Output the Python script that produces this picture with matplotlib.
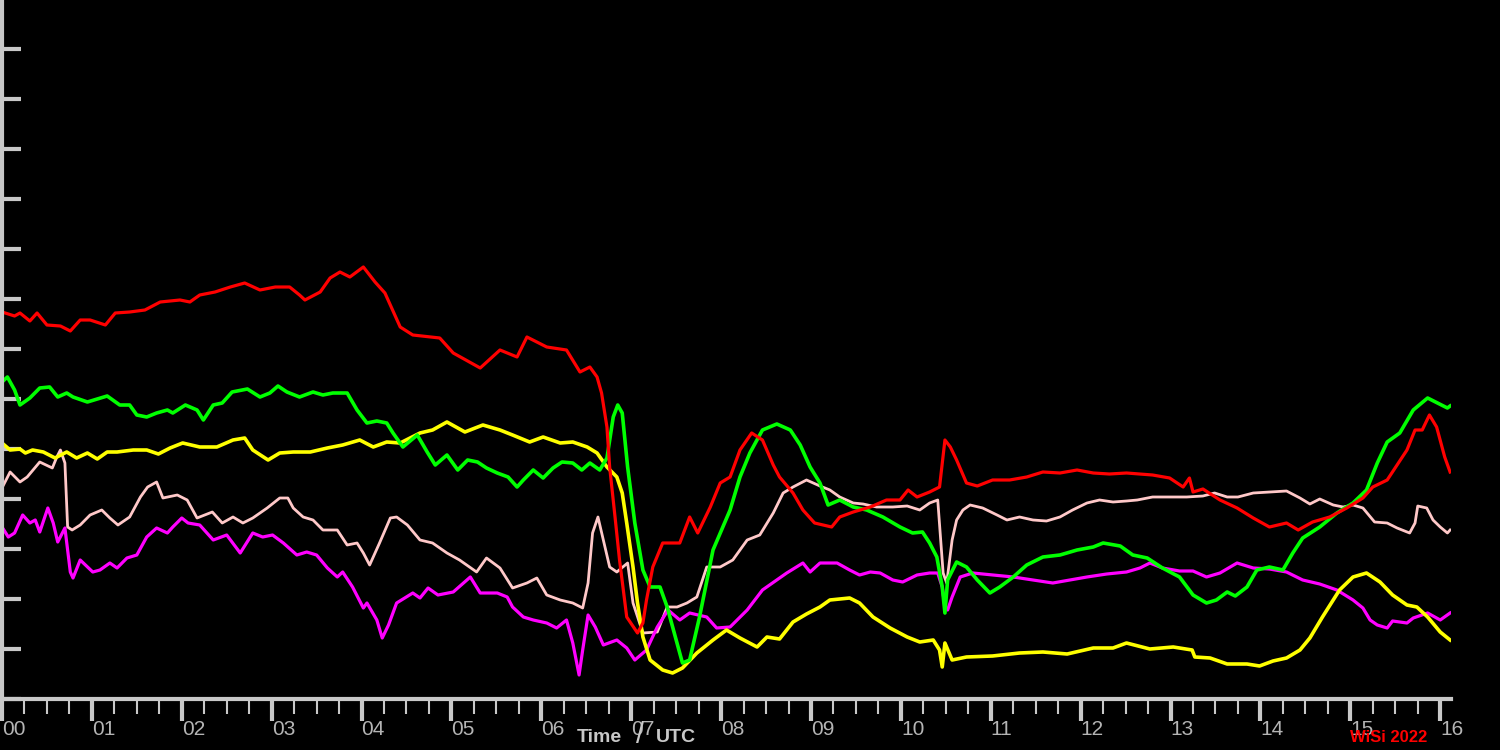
import matplotlib.pyplot as plt
from matplotlib.ticker import MultipleLocator

# times in hours UTC, values in axis units (one tick = 1)
red_t = [0.00, 0.14, 0.20, 0.31, 0.39, 0.50, 0.65, 0.76, 0.87, 0.98, 1.15, 1.26, 1.42, 1.59, 1.76, 1.98,
         2.09, 2.20, 2.37, 2.54, 2.70, 2.87, 3.04, 3.20, 3.31, 3.37, 3.54, 3.65, 3.76, 3.87, 4.02, 4.15,
         4.26, 4.37, 4.43, 4.57, 4.87, 5.02, 5.32, 5.54, 5.73, 5.84, 6.06, 6.28, 6.43, 6.54, 6.62, 6.67,
         6.73, 6.76, 6.82, 6.87, 6.95, 7.07, 7.13, 7.17, 7.24, 7.35, 7.54, 7.65, 7.74, 7.88, 7.99, 8.10,
         8.21, 8.34, 8.46, 8.58, 8.65, 8.80, 8.91, 9.04, 9.23, 9.32, 9.47, 9.66, 9.84, 9.99, 10.08, 10.18,
         10.32, 10.43, 10.49, 10.55, 10.62, 10.73, 10.85, 11.02, 11.21, 11.40, 11.58, 11.77, 11.96, 12.14,
         12.32, 12.51, 12.80, 12.99, 13.14, 13.21, 13.25, 13.36, 13.55, 13.74, 13.92, 14.10, 14.29, 14.42,
         14.58, 14.77, 14.96, 15.14, 15.25, 15.41, 15.52, 15.63, 15.72, 15.80, 15.88, 15.96, 16.05, 16.11]
red_v = [7.74, 7.66, 7.72, 7.56, 7.72, 7.48, 7.46, 7.36, 7.58, 7.58, 7.48, 7.72, 7.74, 7.78, 7.94, 7.98,
         7.94, 8.08, 8.14, 8.24, 8.32, 8.18, 8.24, 8.24, 8.08, 7.98, 8.14, 8.42, 8.54, 8.44, 8.64, 8.34,
         8.12, 7.68, 7.44, 7.28, 7.22, 6.92, 6.62, 6.98, 6.84, 7.24, 7.04, 6.98, 6.54, 6.64, 6.44, 6.12,
         5.44, 4.64, 3.64, 2.78, 1.64, 1.32, 1.52, 1.98, 2.64, 3.12, 3.12, 3.64, 3.32, 3.84, 4.32, 4.44,
         4.98, 5.32, 5.18, 4.68, 4.44, 4.12, 3.78, 3.52, 3.44, 3.64, 3.74, 3.84, 3.98, 3.98, 4.18, 4.04,
         4.14, 4.24, 5.18, 5.04, 4.78, 4.32, 4.26, 4.38, 4.38, 4.44, 4.54, 4.52, 4.58, 4.52,
         4.50, 4.52, 4.48, 4.42, 4.24, 4.42, 4.14, 4.20, 3.98, 3.82, 3.62, 3.44, 3.52, 3.38,
         3.54, 3.64, 3.82, 4.02, 4.24, 4.38, 4.68, 4.98, 5.38, 5.38, 5.68, 5.44, 4.84, 4.54]

green_t = [0.00, 0.06, 0.14, 0.20, 0.31, 0.42, 0.53, 0.62, 0.72, 0.79, 0.95, 1.06, 1.17, 1.31, 1.42, 1.50,
           1.61, 1.72, 1.84, 1.90, 2.04, 2.17, 2.24, 2.35, 2.45, 2.56, 2.73, 2.87, 2.98, 3.07, 3.17, 3.31,
           3.46, 3.57, 3.68, 3.84, 3.95, 4.06, 4.17, 4.28, 4.35, 4.46, 4.62, 4.73, 4.82, 4.95, 5.07, 5.18,
           5.29, 5.39, 5.51, 5.63, 5.73, 5.80, 5.91, 6.02, 6.13, 6.23, 6.35, 6.45, 6.54, 6.65, 6.73, 6.80,
           6.85, 6.90, 6.96, 7.04, 7.13, 7.21, 7.32, 7.40, 7.51, 7.57, 7.65, 7.76, 7.91, 8.10, 8.21, 8.32,
           8.46, 8.62, 8.77, 8.88, 8.99, 9.10, 9.19, 9.32, 9.47, 9.62, 9.80, 9.99, 10.13, 10.24, 10.32,
           10.40, 10.46, 10.49, 10.52, 10.62, 10.73, 10.85, 10.99, 11.10, 11.25, 11.40, 11.58, 11.77,
           11.96, 12.14, 12.25, 12.44, 12.58, 12.74, 12.91, 13.10, 13.25, 13.40, 13.51, 13.63, 13.72,
           13.85, 13.96, 14.10, 14.25, 14.36, 14.47, 14.66, 14.85, 15.03, 15.18, 15.30, 15.41, 15.55,
           15.70, 15.86, 15.97, 16.08, 16.11]
green_v = [6.34, 6.44, 6.18, 5.88, 6.02, 6.22, 6.24, 6.04, 6.12, 6.04, 5.94, 6.00, 6.06, 5.88, 5.88, 5.68,
           5.64, 5.72, 5.78, 5.72, 5.88, 5.78, 5.58, 5.88, 5.92, 6.14, 6.20, 6.04, 6.12, 6.26, 6.14, 6.04,
           6.14, 6.08, 6.12, 6.12, 5.78, 5.52, 5.56, 5.52, 5.32, 5.04, 5.28, 4.94, 4.68, 4.88, 4.58, 4.78,
           4.74, 4.62, 4.52, 4.44, 4.24, 4.38, 4.58, 4.42, 4.62, 4.74, 4.72, 4.58, 4.72, 4.58, 4.82, 5.64,
           5.88, 5.72, 4.64, 3.52, 2.58, 2.24, 2.24, 1.84, 1.12, 0.72, 0.78, 1.64, 2.98, 3.78, 4.44, 4.92,
           5.38, 5.50, 5.38, 5.08, 4.64, 4.32, 3.88, 3.98, 3.84, 3.78, 3.64, 3.44, 3.32, 3.34, 3.12,
           2.84, 2.24, 1.72, 2.38, 2.74, 2.64, 2.38, 2.12, 2.24, 2.44, 2.68, 2.84, 2.88,
           2.98, 3.04, 3.12, 3.06, 2.88, 2.82, 2.62, 2.44, 2.08, 1.92, 1.98, 2.14, 2.06,
           2.24, 2.58, 2.64, 2.58, 2.92, 3.22, 3.44, 3.72, 3.92, 4.18, 4.72, 5.14, 5.32,
           5.78, 6.02, 5.92, 5.82, 5.86]

yellow_t = [0.00, 0.09, 0.20, 0.26, 0.34, 0.46, 0.59, 0.72, 0.83, 0.95, 1.06, 1.17, 1.28, 1.46, 1.61, 1.74,
            1.87, 2.01, 2.20, 2.39, 2.57, 2.70, 2.79, 2.96, 3.09, 3.24, 3.43, 3.62, 3.79, 3.98, 4.13, 4.28,
            4.43, 4.65, 4.79, 4.95, 5.15, 5.35, 5.54, 5.68, 5.87, 6.02, 6.21, 6.35, 6.51, 6.62, 6.73, 6.84,
            6.90, 6.95, 7.02, 7.07, 7.13, 7.21, 7.35, 7.46, 7.57, 7.73, 7.91, 8.06, 8.21, 8.40, 8.51, 8.65,
            8.80, 8.95, 9.10, 9.21, 9.43, 9.54, 9.69, 9.88, 10.07, 10.21, 10.36, 10.43, 10.46, 10.49, 10.57,
            10.73, 11.02, 11.32, 11.58, 11.85, 12.14, 12.36, 12.51, 12.77, 13.03, 13.24, 13.27, 13.44, 13.63,
            13.85, 13.99, 14.14, 14.29, 14.44, 14.55, 14.69, 14.88, 15.03, 15.18, 15.33, 15.47, 15.63, 15.74,
            15.86, 16.00, 16.11]
yellow_v = [5.12, 4.98, 5.00, 4.92, 4.98, 4.94, 4.82, 4.94, 4.82, 4.92, 4.80, 4.94, 4.94, 4.98, 4.98, 4.90,
            5.02, 5.12, 5.04, 5.04, 5.18, 5.22, 4.98, 4.78, 4.92, 4.94, 4.94, 5.02, 5.08, 5.18, 5.04, 5.14,
            5.12, 5.32, 5.38, 5.54, 5.34, 5.48, 5.38, 5.28, 5.14, 5.24, 5.12, 5.14, 5.04, 4.92, 4.64, 4.44,
            4.12, 3.52, 2.64, 1.92, 1.24, 0.78, 0.58, 0.52, 0.62, 0.92, 1.18, 1.38, 1.22, 1.04, 1.24, 1.20,
            1.54, 1.70, 1.84, 1.98, 2.02, 1.92, 1.64, 1.42, 1.24, 1.14, 1.18, 0.98, 0.64, 1.12, 0.78,
            0.84, 0.86, 0.92, 0.94, 0.90, 1.02, 1.02, 1.12, 1.00, 1.04, 0.98, 0.84, 0.82, 0.70,
            0.70, 0.66, 0.76, 0.82, 0.98, 1.22, 1.64, 2.18, 2.44, 2.52, 2.34, 2.08, 1.88, 1.84,
            1.64, 1.34, 1.18]

pink_t = [0.00, 0.09, 0.20, 0.28, 0.42, 0.56, 0.61, 0.65, 0.70, 0.73, 0.78, 0.87, 0.98, 1.11, 1.20, 1.29,
          1.42, 1.54, 1.62, 1.72, 1.79, 1.95, 2.06, 2.17, 2.34, 2.45, 2.57, 2.68, 2.79, 2.95, 3.09, 3.18,
          3.24, 3.35, 3.46, 3.57, 3.73, 3.84, 3.95, 4.02, 4.09, 4.20, 4.32, 4.39, 4.51, 4.65, 4.79, 4.95,
          5.09, 5.28, 5.39, 5.54, 5.68, 5.84, 5.95, 6.06, 6.21, 6.35, 6.46, 6.52, 6.57, 6.63, 6.69, 6.76,
          6.84, 6.96, 7.02, 7.13, 7.29, 7.40, 7.51, 7.62, 7.73, 7.84, 7.99, 8.13, 8.29, 8.43, 8.58, 8.69,
          8.80, 8.95, 9.10, 9.21, 9.32, 9.47, 9.58, 9.73, 9.91, 10.07, 10.21, 10.32, 10.41, 10.47, 10.51,
          10.57, 10.62, 10.69, 10.77, 10.91, 11.07, 11.18, 11.32, 11.47, 11.62, 11.77, 11.91, 12.07, 12.21,
          12.36, 12.51, 12.63, 12.80, 12.99, 13.18, 13.36, 13.49, 13.63, 13.75, 13.92, 14.10, 14.29, 14.44,
          14.55, 14.66, 14.81, 14.92, 15.03, 15.14, 15.27, 15.41, 15.52, 15.66, 15.72, 15.75, 15.85, 15.92,
          16.00, 16.08, 16.11]
pink_v = [4.22, 4.54, 4.34, 4.44, 4.74, 4.62, 4.84, 4.98, 4.72, 3.44, 3.38, 3.48, 3.68, 3.78, 3.62, 3.48,
          3.64, 4.04, 4.24, 4.34, 4.02, 4.08, 3.98, 3.62, 3.74, 3.52, 3.64, 3.52, 3.62, 3.82, 4.02, 4.02,
          3.82, 3.64, 3.58, 3.38, 3.38, 3.08, 3.12, 2.92, 2.68, 3.12, 3.62, 3.64, 3.48, 3.18, 3.12, 2.92,
          2.78, 2.54, 2.82, 2.62, 2.22, 2.32, 2.42, 2.08, 1.98, 1.92, 1.82, 2.32, 3.32, 3.64, 3.18, 2.64,
          2.54, 2.72, 1.92, 1.32, 1.34, 1.84, 1.84, 1.92, 2.04, 2.64, 2.64, 2.78, 3.18, 3.28, 3.72, 4.12,
          4.24, 4.38, 4.26, 4.18, 4.04, 3.92, 3.90, 3.84, 3.84, 3.86, 3.78, 3.92, 3.98, 2.52, 2.32,
          3.18, 3.58, 3.78, 3.88, 3.82, 3.68, 3.58, 3.64, 3.58, 3.56, 3.64, 3.78, 3.92, 3.98,
          3.94, 3.96, 3.98, 4.04, 4.04, 4.04, 4.06, 4.12, 4.04, 4.04, 4.12, 4.14, 4.16, 4.02,
          3.90, 4.00, 3.88, 3.84, 3.88, 3.82, 3.54, 3.52, 3.42, 3.32, 3.52, 3.86, 3.82, 3.58,
          3.44, 3.32, 3.38]

magenta_t = [0.00, 0.07, 0.14, 0.23, 0.31, 0.37, 0.42, 0.51, 0.57, 0.62, 0.70, 0.76, 0.79, 0.87, 1.01, 1.09,
             1.20, 1.28, 1.39, 1.50, 1.61, 1.72, 1.84, 1.90, 2.00, 2.07, 2.20, 2.35, 2.50, 2.65, 2.79, 2.90,
             3.01, 3.13, 3.28, 3.39, 3.50, 3.62, 3.73, 3.79, 3.90, 4.02, 4.06, 4.17, 4.23, 4.30, 4.39, 4.57,
             4.65, 4.74, 4.85, 5.02, 5.21, 5.32, 5.51, 5.62, 5.68, 5.80, 5.91, 6.06, 6.17, 6.28, 6.35, 6.42,
             6.46, 6.52, 6.60, 6.69, 6.84, 6.95, 7.04, 7.17, 7.29, 7.41, 7.54, 7.65, 7.84, 7.95, 8.10, 8.29,
             8.46, 8.65, 8.73, 8.91, 8.99, 9.10, 9.29, 9.43, 9.54, 9.66, 9.77, 9.91, 10.02, 10.18, 10.32,
             10.41, 10.46, 10.49, 10.52, 10.57, 10.66, 10.80, 11.02, 11.25, 11.47, 11.69, 11.88, 12.07, 12.29,
             12.51, 12.66, 12.77, 12.91, 13.10, 13.25, 13.40, 13.55, 13.74, 13.92, 14.10, 14.29, 14.47, 14.66,
             14.85, 15.03, 15.14, 15.22, 15.30, 15.41, 15.47, 15.63, 15.70, 15.86, 16.00, 16.11]
magenta_v = [3.44, 3.24, 3.32, 3.68, 3.52, 3.58, 3.34, 3.82, 3.52, 3.14, 3.42, 2.54, 2.42, 2.78, 2.54, 2.58,
             2.72, 2.62, 2.82, 2.88, 3.24, 3.42, 3.32, 3.44, 3.62, 3.52, 3.48, 3.18, 3.28, 2.92, 3.32, 3.24,
             3.28, 3.12, 2.88, 2.94, 2.88, 2.62, 2.44, 2.54, 2.24, 1.82, 1.92, 1.58, 1.22, 1.48, 1.92, 2.12,
             2.02, 2.22, 2.08, 2.14, 2.44, 2.12, 2.12, 2.04, 1.84, 1.64, 1.58, 1.52, 1.42, 1.58, 1.12, 0.48,
             0.98, 1.68, 1.44, 1.08, 1.18, 1.02, 0.78, 0.98, 1.44, 1.78, 1.58, 1.72, 1.64, 1.42, 1.44, 1.78,
             2.18, 2.42, 2.52, 2.72, 2.54, 2.72, 2.72, 2.58, 2.48, 2.54, 2.52, 2.38, 2.34, 2.48, 2.52,
             2.52, 2.24, 1.84, 1.78, 2.04, 2.44, 2.52, 2.48, 2.44, 2.38, 2.32, 2.38, 2.44, 2.50,
             2.54, 2.62, 2.72, 2.62, 2.56, 2.56, 2.44, 2.52, 2.72, 2.62, 2.60, 2.54, 2.38, 2.30,
             2.18, 1.98, 1.82, 1.58, 1.48, 1.42, 1.56, 1.52, 1.62, 1.72, 1.58, 1.72]

hour_labels = ['%02d' % h for h in range(17)]

fg = '#c8c8c8'
plt.rcParams['font.family'] = ['Liberation Sans', 'DejaVu Sans']

fig = plt.figure(figsize=(15, 7.5), dpi=100, facecolor='black')
ax = fig.add_axes([2 / 1500, 51 / 750, 1449 / 1500, 699 / 750], facecolor='black')

# data drawn as thick noisy traces
ax.plot(pink_t, pink_v, c='#ffc8c8', lw=2.0)
ax.plot(magenta_t, magenta_v, c='#ff00ff', lw=2.3)
ax.plot(yellow_t, yellow_v, c='#ffff00', lw=2.6)
ax.plot(green_t, green_v, c='#00ff00', lw=2.6)
ax.plot(red_t, red_v, c='#ff0000', lw=2.3)

ax.set_xlim(0, 16.12)
ax.set_ylim(0, 13.98)

for s in ['top', 'right']:
    ax.spines[s].set_visible(False)
for s in ['left', 'bottom']:
    ax.spines[s].set_color(fg)
    ax.spines[s].set_linewidth(3)

ax.yaxis.set_major_locator(MultipleLocator(1))
ax.tick_params(axis='y', direction='in', length=14, width=3, color=fg, labelleft=False)

ax.set_xticks(range(17))
ax.set_xticklabels(hour_labels)
ax.xaxis.set_minor_locator(MultipleLocator(0.25))
ax.tick_params(axis='x', which='major', direction='out', length=16, width=3, color=fg,
               labelcolor='#b4b4b4', labelsize=15, pad=-1)
ax.tick_params(axis='x', which='minor', direction='out', length=11, width=1.5, color=fg)
for lab in ax.get_xticklabels():
    lab.set_horizontalalignment('left')

fig.text(622 / 1500, 13 / 750, 'Time', color='#c8c8c8', fontsize=14, fontweight='bold', ha='right', va='center')
fig.text(640 / 1500, 15 / 750, '/', color='#c8c8c8', fontsize=21, ha='center', va='center')
fig.text(656 / 1500, 13 / 750, 'UTC', color='#c8c8c8', fontsize=14, fontweight='bold', ha='left', va='center')
fig.text(1389 / 1500, 12 / 750, 'WiSi 2022', color='#ff0000', fontsize=12, fontweight='bold', ha='center', va='center')

plt.savefig('out.png', dpi=100, facecolor='black')
